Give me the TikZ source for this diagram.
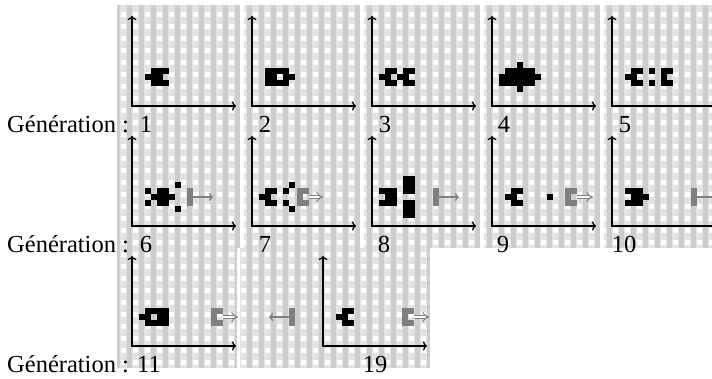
\documentclass[tikz,border=0pt]{standalone}
\usepackage{fontspec}
\setmainfont{Liberation Serif}
\usetikzlibrary{arrows.meta}
\definecolor{bgdark}{HTML}{CDCDCD}
\definecolor{bglight}{HTML}{E2E2E2}
\definecolor{livegray}{HTML}{7F7F7F}
\tikzset{
  axisline/.style={line width=1.3pt, {Computer Modern Rightarrow[length=4pt,width=9pt]}-{Computer Modern Rightarrow[length=4pt,width=9pt]}},
  trailone/.style={livegray, line width=1.3pt, -{Computer Modern Rightarrow[length=4pt,width=8pt]}},
  trailtwo/.style={livegray, double=white, double distance=2.4pt, line width=1pt, -{Implies[length=4pt]}},
  lbl/.style={font=\fontsize{24.5}{24.5}\selectfont, inner sep=0pt, anchor=base},
}
\newcommand{\cells}[1]{\foreach \c/\r in {#1} {\fill ({6*\c},{6*\r}) rectangle ++(6.2,6.2);}}
\newcommand{\axes}[3]{% name, x, y(origin)
  \coordinate (#1o) at (#2,#3);
  \coordinate (#1y) at (#2,#3-90);
  \coordinate (#1x) at (#2+104,#3);
  \draw[axisline] (#1y) -- (#1o) -- (#1x);
}
\begin{document}
\begin{tikzpicture}[x=1pt,y=-1pt]
\useasboundingbox (0,0) rectangle (712,378);
\clip (0,0) rectangle (712,378);
% background grid
\fill[bgdark] (117,5) rectangle (712,368);
\foreach \gx in {120,132,...,708} {\fill[bglight] (\gx,5) rectangle (\gx+7,368);}
\foreach \gx in {120,132,...,708} {
  \foreach \gy in {12,24,...,360} {\fill[white] (\gx+1,\gy) rectangle (\gx+6,\gy+5);}
}
% white gaps
\fill[white] (240,0) rectangle (244,248);
\fill[white] (360,0) rectangle (364,248);
\fill[white] (480,0) rectangle (484,248);
\fill[white] (600,0) rectangle (604,248);
\fill[white] (237,248) rectangle (240,378);
\fill[white] (430,248) rectangle (712,378);
\fill[white] (117,368) rectangle (430,378);

% axes
\axes{a1}{132}{106} \axes{a2}{252}{106} \axes{a3}{372}{106} \axes{a4}{492}{106} \axes{a5}{612}{106}
\axes{b1}{132}{226} \axes{b2}{252}{226} \axes{b3}{372}{226} \axes{b4}{492}{226} \axes{b5}{612}{226}
\axes{c1}{132}{346} \axes{c3}{323}{346}

% Generation 1
\begin{scope}[shift={(145,74)}]
\cells{1/-1,2/-1,3/-1,0/0,1/0,2/0,1/1,2/1,3/1}
\end{scope}
% Generation 2
\begin{scope}[shift={(265,74)}]
\cells{0/-1,1/-1,2/-1,3/-1,0/0,1/0,3/0,4/0,0/1,1/1,2/1,3/1}
\end{scope}
% Generation 3
\begin{scope}[shift={(385,74)}]
\cells{0/-1,1/-1,3/-1,4/-1,-1/0,0/0,2/0,3/0,0/1,1/1,3/1,4/1}
\end{scope}
% Generation 4
\begin{scope}[shift={(505,74)}]
\cells{2/-2,0/-1,1/-1,2/-1,3/-1,4/-1,-1/0,0/0,1/0,2/0,3/0,4/0,5/0,-1/1,0/1,1/1,2/1,3/1,4/1,2/2}
\end{scope}
% Generation 5
\begin{scope}[shift={(625,74)}]
\cells{0/0,1/-1,1/0,1/1,2/-1,2/1,4/-1,4/1,6/-1,6/0,6/1,7/-1,7/1}
\end{scope}

% Generation 6
\begin{scope}[shift={(145,194)}]
\cells{0/-1,2/-1,3/-1,1/0,2/0,3/0,0/1,2/1,3/1,5/-2,4/0,5/2}
\fill[livegray] (42,-6) rectangle ++(6,18);
\coordinate (g6s) at (48,3); \coordinate (g6e) at (68,3);
\draw[trailone] (g6s) -- (g6e);
\end{scope}
% Generation 7
\begin{scope}[shift={(265,194)}]
\cells{-1/0,0/-1,0/0,0/1,1/-1,1/1,4/-2,3/-1,3/1,4/2}
\fill[livegray] (32,-6) rectangle ++(6,18); \fill[livegray] (38,-6) rectangle ++(6,6); \fill[livegray] (38,6) rectangle ++(6,6);
\coordinate (g7s) at (44,3); \coordinate (g7e) at (58,3);
\draw[trailtwo] (g7s) -- (g7e);
\end{scope}
% Generation 8
\begin{scope}[shift={(385,194)}]
\cells{-1/-1,0/-1,1/-1,0/0,1/0,-1/1,0/1,1/1,3/-3,4/-3,3/-2,4/-2,3/-1,4/-1,3/1,4/1,3/2,4/2,3/3,4/3}
\fill[livegray] (48,-6) rectangle ++(6,18);
\coordinate (g8s) at (54,3); \coordinate (g8e) at (74,3);
\draw[trailone] (g8s) -- (g8e);
\end{scope}
% Generation 9
\begin{scope}[shift={(505,194)}]
\cells{0/0,1/-1,1/0,1/1,2/-1,2/1,7/0}
\fill[livegray] (60,-6) rectangle ++(6,18); \fill[livegray] (66,-6) rectangle ++(6,6); \fill[livegray] (66,6) rectangle ++(6,6);
\coordinate (g9s) at (72,3); \coordinate (g9e) at (88,3);
\draw[trailtwo] (g9s) -- (g9e);
\end{scope}
% Generation 10
\begin{scope}[shift={(625,194)}]
\cells{0/-1,1/-1,2/-1,1/0,2/0,3/0,0/1,1/1,2/1}
\fill[livegray] (66,-6) rectangle ++(6,18);
\coordinate (g10s) at (72,3); \coordinate (g10e) at (92,3);
\draw[trailone] (g10s) -- (g10e);
\end{scope}

% Generation 11
\begin{scope}[shift={(145,314)}]
\cells{0/-1,1/-1,2/-1,3/-1,-1/0,0/0,2/0,3/0,0/1,1/1,2/1,3/1}
\fill[livegray] (66,-6) rectangle ++(6,18); \fill[livegray] (72,-6) rectangle ++(6,6); \fill[livegray] (72,6) rectangle ++(6,6);
\coordinate (g11s) at (78,3); \coordinate (g11e) at (93,3);
\draw[trailtwo] (g11s) -- (g11e);
\end{scope}
% middle piece, row 3
\fill[livegray] (289,308) rectangle ++(6,18);
\coordinate (mls) at (289,317); \coordinate (mle) at (269,317);
\draw[trailone] (mls) -- (mle);
% Generation 19
\begin{scope}[shift={(336,314)}]
\cells{0/0,1/-1,1/0,1/1,2/-1,2/1}
\fill[livegray] (66,-6) rectangle ++(6,18); \fill[livegray] (72,-6) rectangle ++(6,6); \fill[livegray] (72,6) rectangle ++(6,6);
\coordinate (g19s) at (78,3); \coordinate (g19e) at (93,3);
\draw[trailtwo] (g19s) -- (g19e);
\end{scope}

% labels
\node[lbl, anchor=base west] (l1) at (7,132) {Génération :};
\node[lbl, anchor=base west] (l2) at (7,252) {Génération :};
\node[lbl, anchor=base west] (l3) at (7,372) {Génération :};
\node[lbl] (n1) at (146,132) {1};
\node[lbl] (n2) at (265,132) {2};
\node[lbl] (n3) at (385,132) {3};
\node[lbl] (n4) at (504,132) {4};
\node[lbl] (n5) at (625,132) {5};
\node[lbl] (n6) at (146,252) {6};
\node[lbl] (n7) at (265,252) {7};
\node[lbl] (n8) at (384,252) {8};
\node[lbl] (n9) at (503,252) {9};
\node[lbl] (n10) at (624,252) {10};
\node[lbl] (n11) at (149,372) {11};
\node[lbl] (n19) at (375,372) {19};
\end{tikzpicture}
\end{document}
